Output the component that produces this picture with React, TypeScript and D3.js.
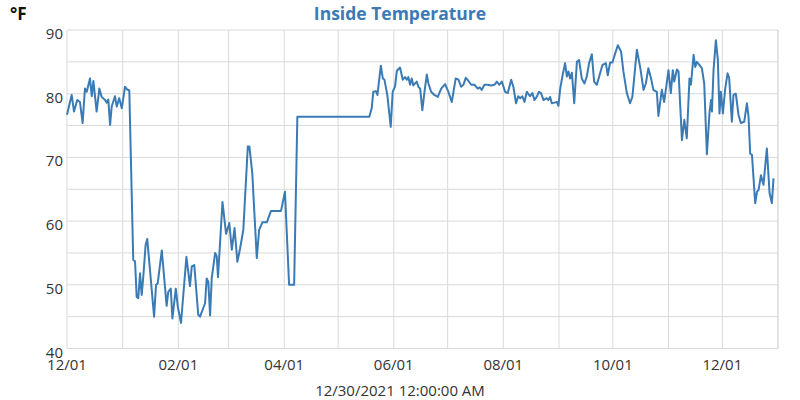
import React from "react";
import * as d3 from "d3";

const startDate = new Date(2020, 11, 1);
const endDate = new Date(2022, 0, 1);

// days since 2020-12-01
const dayOffsets: number[] = [
  0, 2.6, 3.9, 5.7, 7.2, 8.7, 10.0, 11.0, 12.8, 13.8, 14.7, 16.5, 18.0, 19.3, 21.2, 22.1, 23.0, 24.0, 24.9, 26.7,
  27.7, 29.1, 30.5, 32.3, 33.3, 34.7, 36.9, 37.9, 38.8, 39.7, 40.7, 41.6, 42.5, 43.8, 44.7, 48.5, 49.6, 50.5, 52.8, 55.5,
  56.4, 57.8, 58.7, 60.6, 61.7, 63.5, 66.5, 68.5, 69.5, 70.9, 73.1, 74.1, 76.9, 77.8, 78.7, 79.7, 80.6, 82.5, 83.4, 84.1,
  86.6, 88.6, 90.4, 91.8, 93.3, 94.9, 96.4, 98.2, 100.7, 101.6, 103.2, 105.7, 107.0, 108.8, 111.3, 113.6, 119.2, 121.4, 123.7, 126.5,
  128.3, 168.4, 169.7, 170.6, 172.1, 172.9, 174.8, 175.9, 176.8, 178.4, 180.3, 181.4, 182.7, 183.7, 185.5, 187.0, 188.3, 189.3, 190.1, 191.1,
  192.0, 192.9, 194.8, 195.7, 196.7, 197.9, 199.1, 200.4, 201.3, 202.8, 204.6, 206.5, 208.4, 210.6, 212.4, 214.3, 216.5, 218.0, 219.5, 220.8,
  222.1, 223.6, 225.1, 226.9, 228.8, 229.9, 231.0, 232.5, 234.4, 236.2, 238.1, 239.4, 240.7, 242.2, 244.0, 245.5, 247.4, 248.6, 250.1, 251.3,
  252.4, 253.6, 254.8, 256.1, 257.9, 259.2, 260.3, 261.6, 262.9, 264.0, 265.4, 267.2, 268.1, 269.1, 270.0, 271.5, 272.8, 273.7, 274.7, 275.9,
  277.4, 278.4, 279.3, 280.2, 281.2, 282.5, 284.0, 285.2, 286.7, 288.2, 289.5, 290.8, 292.3, 293.6, 295.1, 296.4, 298.2, 300.1, 301.2, 302.5,
  303.8, 305.3, 306.8, 308.6, 309.9, 311.8, 313.6, 314.9, 317.4, 319.2, 321.1, 322.4, 323.8, 325.3, 326.6, 328.5, 329.4, 331.3, 332.6, 335.0,
  336.3, 337.4, 338.2, 339.7, 340.6, 342.5, 343.8, 345.2, 346.7, 347.5, 349.0, 349.9, 350.8, 352.3, 353.6, 354.9, 356.4, 357.9, 358.7, 359.2,
  360.1, 361.4, 362.5, 363.4, 364.2, 365.3, 366.6, 367.9, 368.8, 370.3, 371.2, 372.5, 374.0, 375.3, 377.2, 378.7, 379.6, 380.5, 381.5, 383.3,
  384.3, 385.2, 386.5, 387.9, 389.8, 391.3, 392.6, 393.5,
];

const temps: number[] = [
  76.7, 79.8, 77.2, 79.0, 78.7, 75.4, 80.8, 80.3, 82.4, 79.6, 82.0, 77.2, 80.8, 79.5, 79.0, 78.6, 79.1, 75.1, 78.0, 79.6,
  78.0, 79.3, 77.7, 81.1, 80.7, 80.5, 53.9, 53.7, 48.1, 47.9, 51.8, 48.4, 51.3, 56.3, 57.2, 45.0, 50.0, 50.2, 55.4, 46.7,
  48.9, 49.4, 44.7, 49.4, 46.6, 44.0, 54.4, 49.8, 52.9, 53.1, 45.3, 45.0, 47.1, 51.0, 50.5, 45.2, 51.0, 55.0, 54.5, 51.2,
  63.0, 58.0, 59.7, 55.5, 58.9, 53.6, 55.7, 58.6, 71.7, 71.7, 67.5, 54.2, 58.6, 59.8, 59.8, 61.6, 61.6, 64.6, 50.0, 50.0,
  76.4, 76.4, 77.7, 80.3, 80.4, 79.8, 84.4, 82.4, 82.2, 79.8, 74.8, 80.3, 81.1, 83.6, 84.1, 82.2, 82.6, 82.2, 82.6, 81.4,
  82.4, 81.3, 81.9, 81.1, 80.8, 77.4, 80.3, 83.0, 81.6, 80.3, 79.8, 79.5, 80.8, 81.5, 80.3, 78.7, 82.4, 82.2, 81.1, 81.4,
  82.5, 82.0, 81.4, 81.4, 80.8, 81.0, 80.6, 81.4, 81.4, 81.3, 81.4, 81.9, 81.4, 81.9, 80.3, 80.1, 82.2, 81.1, 78.5, 79.6,
  79.3, 79.6, 78.7, 80.3, 79.6, 80.1, 79.0, 79.5, 80.3, 80.1, 79.0, 79.3, 79.0, 79.5, 78.5, 78.6, 78.7, 78.1, 80.8, 82.7,
  84.8, 82.7, 83.5, 82.4, 83.3, 78.5, 85.0, 85.3, 82.4, 81.6, 82.7, 84.8, 86.2, 81.9, 81.4, 82.7, 84.5, 84.8, 82.9, 84.9,
  84.9, 86.3, 87.6, 86.6, 83.5, 80.1, 78.5, 79.5, 86.9, 84.2, 80.6, 81.6, 84.0, 82.4, 80.6, 80.3, 76.5, 80.6, 78.7, 83.7,
  80.1, 83.7, 81.9, 83.8, 83.5, 72.7, 75.9, 73.0, 82.4, 81.4, 86.1, 84.2, 85.0, 84.5, 84.0, 81.6, 70.5, 77.2, 79.0, 77.2,
  83.7, 88.4, 85.3, 76.9, 80.3, 76.9, 80.8, 83.2, 82.5, 75.6, 79.8, 80.0, 76.7, 75.4, 75.6, 78.5, 76.4, 70.6, 70.4, 62.8,
  64.6, 64.9, 67.2, 65.7, 71.4, 64.4, 62.8, 66.7,
];

const yTickLabels = [40, 50, 60, 70, 80, 90];
const yGridValues = [40, 45, 50, 55, 60, 65, 70, 75, 80, 85, 90];
const titleText = "Inside Temperature";
const unitText = "°F";
const footerText = "12/30/2021 12:00:00 AM";

const W = 800;
const H = 400;
const M = { left: 67, right: 778, top: 30, bottom: 348.5 };
const FONT = "'Open Sans', sans-serif";
const LINE = "#3a7bb6";
const GRID = "#d9d9d9";

export default function App() {
  const x = d3.scaleTime().domain([startDate, endDate]).range([M.left, M.right]);
  const y = d3.scaleLinear().domain([40, 90]).range([M.bottom, M.top]);
  const pts = dayOffsets.map((d, i) => ({
    date: new Date(startDate.getTime() + d * 86400000),
    v: temps[i],
  }));
  const line = d3
    .line<{ date: Date; v: number }>()
    .x((d) => x(d.date))
    .y((d) => y(d.v));
  const monthGrid = d3.timeMonth.range(startDate, d3.timeDay.offset(endDate, 1));
  const labelMonths = monthGrid.filter((m, i) => i % 2 === 0 && m < endDate);
  const fmt = d3.timeFormat("%m/%d");

  return (
    <svg width={W} height={H} style={{ position: "absolute", left: 0, top: 0, background: "#fff" }}>
      <rect x={0} y={0} width={W} height={H} fill="#fff" />
      {yGridValues.map((v) => (
        <line key={"yg" + v} x1={M.left} x2={M.right} y1={y(v)} y2={y(v)} stroke={GRID} strokeWidth={1} />
      ))}
      {monthGrid.map((m) => (
        <line key={"xg" + m.getTime()} x1={x(m)} x2={x(m)} y1={M.top} y2={M.bottom} stroke={GRID} strokeWidth={1} />
      ))}
      <line x1={M.right} x2={M.right} y1={M.top} y2={M.bottom} stroke={GRID} strokeWidth={1} />
      <path d={line(pts) || ""} fill="none" stroke={LINE} strokeWidth={2} strokeLinejoin="round" />
      {yTickLabels.map((v) => (
        <text key={"yl" + v} x={63} y={y(v) + 9} textAnchor="end" fontFamily={FONT} fontSize={15} fill="#333">
          {v}
        </text>
      ))}
      {labelMonths.map((m) => (
        <text key={"xl" + m.getTime()} x={x(m)} y={370} textAnchor="middle" fontFamily={FONT} fontSize={15} fill="#333">
          {fmt(m)}
        </text>
      ))}
      <text x={400} y={20} textAnchor="middle" fontFamily={FONT} fontSize={17.5} fontWeight="bold" fill="#3b7ab6">
        {titleText}
      </text>
      <text x={10} y={19.5} fontFamily={FONT} fontSize={17} fontWeight="bold" fill="#111">
        {unitText}
      </text>
      <text x={400} y={396} textAnchor="middle" fontFamily={FONT} fontSize={15} fill="#333">
        {footerText}
      </text>
    </svg>
  );
}
